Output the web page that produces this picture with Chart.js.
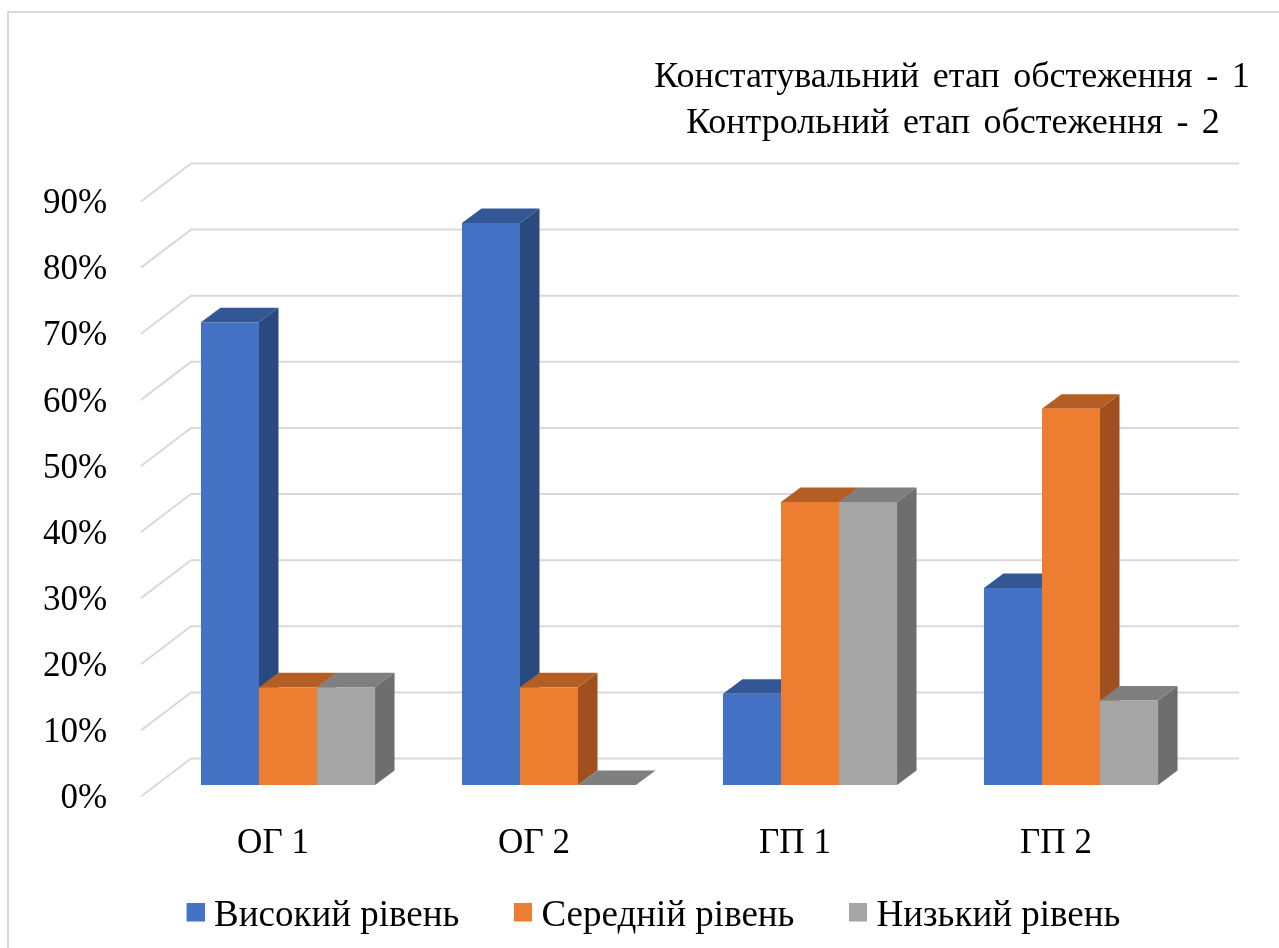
<!DOCTYPE html>
<html>
<head>
<meta charset="utf-8">
<script src="https://cdn.jsdelivr.net/npm/chart.js@4"></script>
<style>
    html, body { margin: 0; padding: 0; background: #fff; }
    #wrap { width: 1279px; height: 948px; position: relative; }
</style>
</head>
<body>
<div id="wrap"><canvas id="levelChart" width="1279" height="948"></canvas></div>
<script>
const categories = ["ОГ 1", "ОГ 2", "ГП 1", "ГП 2"];
const highLevel = [70, 85, 13.8, 29.8];
const midLevel = [14.8, 14.8, 42.8, 56.9];
const lowLevel = [14.8, 0, 42.8, 12.8];
const seriesNames = ["Високий рівень", "Середній рівень", "Низький рівень"];
const titleLines = ["Констатувальний етап обстеження - 1", "Контрольний етап обстеження - 2"];

const fontName = "'Liberation Serif', serif";
const frontColors = ["#4472C4", "#ED7D31", "#A5A5A5"];
const sideColors = ["#2A4A7F", "#A0501F", "#6E6E6E"];
const topColors = ["#335694", "#B55E24", "#7F7F7F"];

// bar depth
const dx = 19.5, dy = 14.5;
// walls, relative to the front of the bars
const wallBackX = 191, wallFrontX = 141, wallRightX = 1239, wallBackUp = 26.5, wallFrontDown = 11.5;

function poly(ctx, pts, color) {
    ctx.fillStyle = color;
    ctx.beginPath();
    ctx.moveTo(pts[0][0], pts[0][1]);
    pts.slice(1).forEach(p => ctx.lineTo(p[0], p[1]));
    ctx.closePath();
    ctx.fill();
}

// legend swatch sits off centre so it ends up closer to the text
function swatch(color) {
    const c = document.createElement("canvas");
    c.width = 36;
    c.height = 27;
    const g = c.getContext("2d");
    g.fillStyle = color;
    g.fillRect(18, 0, 18, 19);
    return c;
}
const swatches = frontColors.map(swatch);

const walls = {
    id: "walls",
    beforeDatasetsDraw(chart) {
        const ctx = chart.ctx;
        const y = chart.scales.y;
        ctx.save();
        ctx.strokeStyle = "#D9D9D9";
        ctx.lineWidth = 2;
        y.ticks.forEach(t => {
            const py = y.getPixelForValue(t.value);
            ctx.beginPath();
            ctx.moveTo(wallFrontX, py + wallFrontDown);
            ctx.lineTo(wallBackX, py - wallBackUp);
            ctx.lineTo(wallRightX, py - wallBackUp);
            ctx.stroke();
        });
        // sides and tops go under the fronts the library draws
        chart.data.datasets.forEach((ds, i) => {
            chart.getDatasetMeta(i).data.forEach(bar => {
                const r = bar.x + bar.width / 2;
                const t = bar.y, b = bar.base;
                if (b - t > 0) {
                    poly(ctx, [[r, t], [r + dx, t - dy], [r + dx, b - dy], [r, b]], sideColors[i]);
                }
            });
        });
        chart.data.datasets.forEach((ds, i) => {
            chart.getDatasetMeta(i).data.forEach(bar => {
                const l = bar.x - bar.width / 2, r = bar.x + bar.width / 2;
                const t = bar.y;
                poly(ctx, [[l, t], [r, t], [r + dx, t - dy], [l + dx, t - dy]], topColors[i]);
            });
        });
        ctx.restore();
    }
};

const frame = {
    id: "frame",
    afterDraw(chart) {
        const ctx = chart.ctx;
        ctx.save();
        ctx.strokeStyle = "#D9D9D9";
        ctx.lineWidth = 2;
        ctx.beginPath();
        ctx.moveTo(8, 948);
        ctx.lineTo(8, 12);
        ctx.lineTo(1279, 12);
        ctx.stroke();
        ctx.fillStyle = "#000";
        ctx.font = "36px " + fontName;
        ctx.textAlign = "center";
        ctx.textBaseline = "middle";
        ctx.wordSpacing = "4.5px";
        ctx.fillText(titleLines[0], 952, 78);
        ctx.fillText(titleLines[1], 953, 124);
        ctx.restore();
    }
};

new Chart(document.getElementById("levelChart"), {
    type: "bar",
    data: {
        labels: categories,
        datasets: [
            { label: seriesNames[0], data: highLevel, backgroundColor: frontColors[0] },
            { label: seriesNames[1], data: midLevel, backgroundColor: frontColors[1] },
            { label: seriesNames[2], data: lowLevel, backgroundColor: frontColors[2] }
        ]
    },
    plugins: [walls, frame],
    options: {
        responsive: false,
        animation: false,
        layout: { padding: { top: 190, right: 77.5, bottom: 3.5, left: 96.5 } },
        datasets: { bar: { categoryPercentage: 0.667, barPercentage: 1 } },
        scales: {
            x: {
                grid: { display: false },
                border: { display: false },
                // mirror: labels reach below the short axis box and must not be clipped
                ticks: { color: "#000", font: { family: fontName, size: 35 }, labelOffset: -15, mirror: true, padding: -80 },
                afterFit(scale) { scale.height = 67; }
            },
            y: {
                min: 0,
                max: 90,
                grid: { display: false },
                border: { display: false },
                ticks: {
                    stepSize: 10,
                    color: "#000",
                    font: { family: fontName, size: 35 },
                    labelOffset: 14,
                    mirror: true,
                    crossAlign: "far",
                    padding: -114.5,
                    callback: v => v + "%"
                },
                afterFit(scale) { scale.width = 61; }
            }
        },
        plugins: {
            tooltip: { enabled: false },
            legend: {
                position: "bottom",
                labels: {
                    color: "#000",
                    usePointStyle: true,
                    pointStyleWidth: 18,
                    boxHeight: 19,
                    padding: 45.5,
                    font: { family: fontName, size: 37 },
                    generateLabels(chart) {
                        const items = Chart.defaults.plugins.legend.labels.generateLabels(chart);
                        items.forEach((item, i) => { item.pointStyle = swatches[i]; });
                        return items;
                    }
                }
            }
        }
    }
});
</script>
</body>
</html>
